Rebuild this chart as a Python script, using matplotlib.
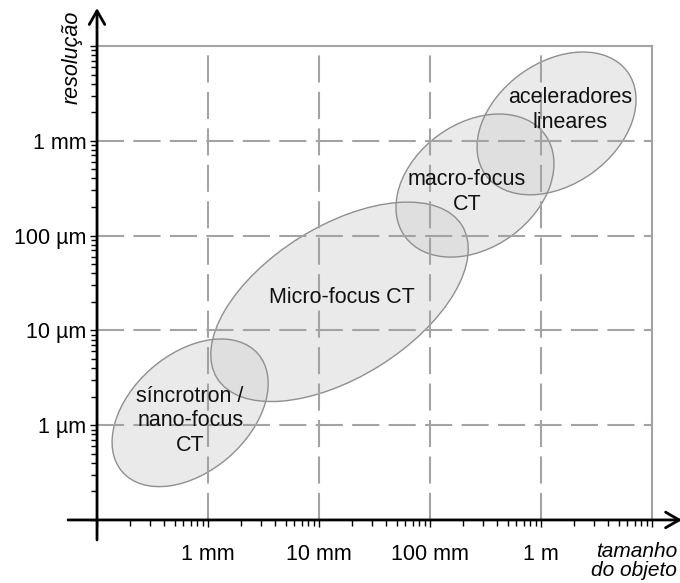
import numpy as np
import matplotlib
matplotlib.use("Agg")
import matplotlib.pyplot as plt
from matplotlib.patches import Ellipse
from matplotlib.transforms import Affine2D
from matplotlib.ticker import FixedLocator, FixedFormatter

plt.rcParams['font.family'] = ['Liberation Sans', 'DejaVu Sans']

# object size axis (mm) and resolution axis (um)
x_ticks_mm = [0.1, 1, 10, 100, 1000, 10000]
x_labels = ['', '1 mm', '10 mm', '100 mm', '1 m', '']
y_ticks_um = [0.1, 1, 10, 100, 1000, 10000]
y_labels = ['', '1 µm', '10 µm', '100 µm', '1 mm', '']

# regions: centre (mm, um), semi-axes in decades, tilt in degrees
names = ['síncrotron /\nnano-focus\nCT', 'Micro-focus CT',
         'macro-focus\nCT', 'aceleradores\nlineares']
center_mm = [0.69, 15.3, 254, 1380]
center_um = [1.35, 20.0, 337, 1525]
semi_major = [0.81, 1.30, 0.78, 0.79]
semi_minor = [0.53, 0.68, 0.56, 0.55]
tilt = [41, 32, 36, 36]
label_mm = [0.69, 16.1, 215, 1825]
label_um = [1.11, 22.0, 288, 2115]

fs = 15.5
grid_col = '#a3a3a3'

fig = plt.figure(figsize=(6.8, 5.83), dpi=100)
ax = fig.add_axes([0, 0, 1, 1])
ax.set_xlim(-1.874, 4.252)
ax.set_ylim(-1.665, 4.485)
ax.patch.set_visible(False)

lx = np.log10(x_ticks_mm)
ly = np.log10(y_ticks_um)

# grid: dashed inside, solid at outer edge
for v in lx[1:-1]:
    ax.plot([v, v], [ly[0], ly[-1]], color=grid_col, lw=1.5, ls=(0, (13, 4.5)), zorder=2)
for v in ly[1:-1]:
    ax.plot([lx[0], lx[-1]], [v, v], color=grid_col, lw=1.5, ls=(0, (13, 4.5)), zorder=2)
ax.plot([lx[0], lx[-1]], [ly[-1], ly[-1]], color=grid_col, lw=1.5, zorder=2)
ax.plot([lx[-1], lx[-1]], [ly[0], ly[-1]], color=grid_col, lw=1.5, zorder=2)

# ellipses drawn in a space with equal pixels per unit
fig.canvas.draw()
ppx = ax.transData.transform((1, 0))[0] - ax.transData.transform((0, 0))[0]
ppy = ax.transData.transform((0, 1))[1] - ax.transData.transform((0, 0))[1]
r = ppy / ppx
tr = Affine2D().scale(1, 1 / r) + ax.transData
for i in range(len(names)):
    e = Ellipse((np.log10(center_mm[i]), np.log10(center_um[i]) * r),
                2 * semi_major[i], 2 * semi_minor[i], angle=tilt[i],
                transform=tr, facecolor='#d6d6d6', alpha=0.5,
                edgecolor='none', zorder=1)
    ax.add_patch(e)
    e2 = Ellipse((np.log10(center_mm[i]), np.log10(center_um[i]) * r),
                 2 * semi_major[i], 2 * semi_minor[i], angle=tilt[i],
                 transform=tr, facecolor='none', edgecolor='#8f8f8f',
                 lw=1.0, zorder=1.5)
    ax.add_patch(e2)
    ax.text(np.log10(label_mm[i]), np.log10(label_um[i]), names[i],
            ha='center', va='center', fontsize=fs, linespacing=1.2,
            color='#111111', zorder=3)

# axes with arrows
ax.annotate('', xy=(4.27, ly[0]), xytext=(-1.261, ly[0]),
            arrowprops=dict(arrowstyle='->,head_length=0.7,head_width=0.4',
                            lw=2, color='black', shrinkA=0, shrinkB=0,
                            mutation_scale=14),
            annotation_clip=False, zorder=4)
ax.annotate('', xy=(lx[0], 4.40), xytext=(lx[0], -1.211),
            arrowprops=dict(arrowstyle='->,head_length=0.7,head_width=0.4',
                            lw=2, color='black', shrinkA=0, shrinkB=0,
                            mutation_scale=14),
            annotation_clip=False, zorder=4)

for s in ['top', 'right']:
    ax.spines[s].set_visible(False)
ax.spines['left'].set_position(('data', lx[0]))
ax.spines['bottom'].set_position(('data', ly[0]))
ax.spines['left'].set_color('none')
ax.spines['bottom'].set_color('none')

minor_x = [np.log10(k * t) for t in x_ticks_mm[:-1] for k in range(2, 10)]
minor_y = [np.log10(k * t) for t in y_ticks_um[:-1] for k in range(2, 10)]
ax.xaxis.set_major_locator(FixedLocator(lx))
ax.xaxis.set_major_formatter(FixedFormatter(x_labels))
ax.xaxis.set_minor_locator(FixedLocator(minor_x))
ax.yaxis.set_major_locator(FixedLocator(ly))
ax.yaxis.set_major_formatter(FixedFormatter(y_labels))
ax.yaxis.set_minor_locator(FixedLocator(minor_y))
ax.tick_params(which='both', direction='out', color='black', width=1)
ax.tick_params(which='major', length=5)
ax.tick_params(which='minor', length=4)
ax.tick_params(axis='x', which='major', pad=12, labelsize=fs)
ax.tick_params(axis='y', which='major', pad=2.5, labelsize=fs)

fig.text(72 / 680, 1 - 57 / 583, 'resolução', rotation=90, style='italic',
         ha='center', va='center', fontsize=fs)
fig.text(677 / 680, 1 - 561 / 583, 'tamanho\ndo objeto', style='italic',
         ha='right', va='center', fontsize=fs - 0.5, linespacing=1.0)

fig.savefig('out.png', dpi=100)
